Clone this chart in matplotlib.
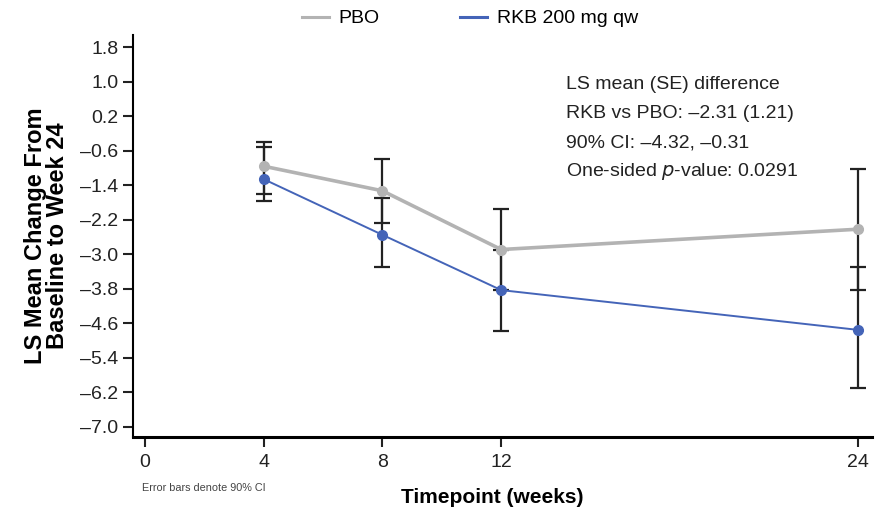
import matplotlib
matplotlib.use('Agg')
import matplotlib.pyplot as plt
from matplotlib.ticker import FixedLocator, FuncFormatter

plt.rcParams['font.family'] = ['Liberation Sans', 'DejaVu Sans']

weeks = [4, 8, 12, 24]

# LS mean change and 90% CI bounds
pbo_mean  = [-0.96, -1.53, -2.89, -2.42]
pbo_upper = [-0.39, -0.80, -1.94, -1.03]
pbo_lower = [-1.61, -2.28, -3.83, -3.83]

rkb_mean  = [-1.26, -2.55, -3.83, -4.75]
rkb_upper = [-0.52, -1.70, -2.89, -3.29]
rkb_lower = [-1.77, -3.30, -4.77, -6.10]

yticks = [1.8, 1.0, 0.2, -0.6, -1.4, -2.2, -3.0, -3.8, -4.6, -5.4, -6.2, -7.0]
xticks = [0, 4, 8, 12, 24]

stats_lines = ['LS mean (SE) difference',
               'RKB vs PBO: \u20132.31 (1.21)',
               '90% CI: \u20134.32, \u20130.31',
               'One-sided $\\it{p}$-value: 0.0291']

PBO_COL = '#b3b3b3'
RKB_COL = '#4464b8'

fig = plt.figure(figsize=(8.75, 5.14), dpi=100)
ax = fig.add_axes([0.152, 0.150, 0.845, 0.782])

def err(mean, lo, hi):
    return [[m - l for m, l in zip(mean, lo)], [h - m for m, h in zip(mean, hi)]]

ax.errorbar(weeks, pbo_mean, yerr=err(pbo_mean, pbo_lower, pbo_upper), fmt='none',
            ecolor='#222222', elinewidth=1.6, capsize=6, capthick=1.6, zorder=2)
ax.errorbar(weeks, rkb_mean, yerr=err(rkb_mean, rkb_lower, rkb_upper), fmt='none',
            ecolor='#222222', elinewidth=1.6, capsize=6, capthick=1.6, zorder=2)

ax.plot(weeks, pbo_mean, '-o', color=PBO_COL, lw=2.6, ms=7, label='PBO', zorder=3)
ax.plot(weeks, rkb_mean, '-o', color=RKB_COL, lw=1.4, ms=7, label='RKB 200 mg qw', zorder=4)

ax.set_xlim(-0.4, 24.5)
ax.set_ylim(-7.23, 2.08)
ax.yaxis.set_major_locator(FixedLocator(yticks))
ax.yaxis.set_major_formatter(FuncFormatter(lambda v, p: ('%.1f' % v).replace('-', '\u2013')))
ax.set_xticks(xticks)

for s in ['top', 'right']:
    ax.spines[s].set_visible(False)
ax.spines['left'].set_linewidth(1.5)
ax.spines['bottom'].set_linewidth(2.2)
ax.tick_params(axis='both', direction='out', length=7, width=1.5, labelsize=14, colors='#222222')
ax.tick_params(axis='x', pad=5)

ax.set_ylabel('LS Mean Change From\nBaseline to Week 24', fontsize=17, fontweight='bold',
              labelpad=8, linespacing=0.95)
fig.text(0.562, 0.033, 'Timepoint (weeks)', fontsize=15, fontweight='bold',
         ha='center', va='center')

for i, line in enumerate(stats_lines):
    ax.text(0.585, 0.876 - i * 0.072, line, transform=ax.transAxes, fontsize=14,
            va='center', ha='left', color='#222222')

fig.text(0.162, 0.051, 'Error bars denote 90% CI', fontsize=7.8, color='#444444', va='center')

leg = fig.legend(loc='upper center', bbox_to_anchor=(0.537, 1.015), ncol=2, frameon=False,
                 fontsize=14, handlelength=1.4, handletextpad=0.5, columnspacing=4.1,
                 markerscale=0)
for h in leg.legend_handles:
    h.set_linewidth(2.2)

fig.savefig('out.png', dpi=100)
